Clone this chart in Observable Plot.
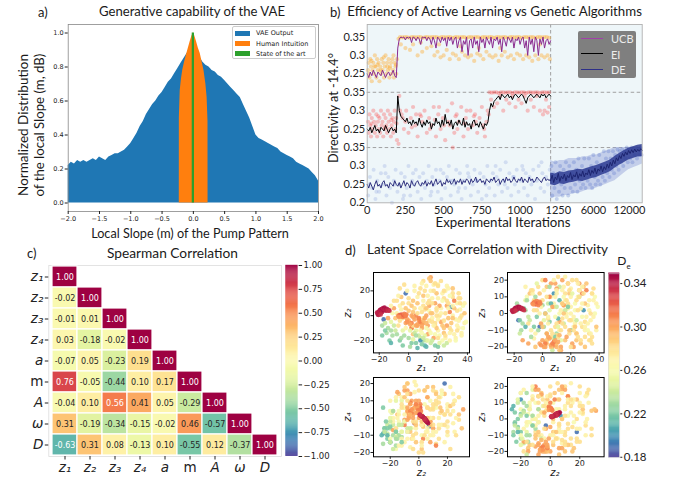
<!DOCTYPE html>
<html><head><meta charset="utf-8">
<script src="https://cdn.jsdelivr.net/npm/d3@7"></script>
<script src="https://cdn.jsdelivr.net/npm/@observablehq/plot@0.6"></script>
<style>
body{margin:0;background:#fff;}
#fig{position:relative;width:678px;height:483px;overflow:hidden;background:#fff;}
#fig svg{overflow:visible;}
.lbl{position:absolute;white-space:nowrap;line-height:1;color:#1a1a1a;}
</style></head><body><div id="fig"></div>
<script>
// ---------------- Panel a data ----------------
const slopeGrid = [-2,-1.95,-1.9,-1.85,-1.8,-1.75,-1.7,-1.65,-1.6,-1.55,-1.5,-1.45,-1.4,-1.35,-1.3,-1.25,-1.2,-1.15,-1.1,-1.05,-1,-0.95,-0.9,-0.85,-0.8,-0.75,-0.7,-0.65,-0.6,-0.55,-0.5,-0.45,-0.4,-0.35,-0.3,-0.25,-0.2,-0.15,-0.1,-0.05,0,0.05,0.1,0.15,0.2,0.25,0.3,0.35,0.4,0.45,0.5,0.55,0.6,0.65,0.7,0.75,0.8,0.85,0.9,0.95,1,1.05,1.1,1.15,1.2,1.25,1.3,1.35,1.4,1.45,1.5,1.55,1.6,1.65,1.7,1.75,1.8,1.85,1.9,1.95,2];
const vaeDensity = [.22,.24,.23,.25,.24,.25,.24,.25,.26,.25,.27,.26,.25,.27,.28,.29,.29,.30,.31,.33,.35,.38,.41,.45,.48,.52,.55,.58,.60,.63,.65,.68,.71,.73,.76,.79,.82,.85,.88,.90,.92,.89,.86,.83,.81,.80,.78,.77,.75,.74,.72,.70,.68,.66,.64,.62,.58,.54,.50,.45,.40,.38,.37,.36,.35,.34,.33,.32,.30,.29,.28,.27,.26,.24,.23,.22,.21,.20,.18,.16,.13];
const humanX = [-0.225,-0.224,-0.21,-0.19,-0.17,-0.14,-0.11,-0.08,-0.05,-0.02,0,0.02,0.05,0.08,0.11,0.14,0.17,0.2,0.22,0.234,0.235];
const humanY = [0,0.5,0.66,0.73,0.78,0.83,0.87,0.91,0.95,0.985,1.0,0.985,0.95,0.91,0.88,0.83,0.78,0.7,0.62,0.48,0];
const stateArtX = [0];
const stateArtY = [1.0];
const aXTicks = [-2,-1.5,-1,-0.5,0,0.5,1,1.5,2];
const aYTicks = [0,0.2,0.4,0.6,0.8,1.0];

// ---------------- Panel b data ----------------
const iterGrid = d3.range(0, 1201, 10);
const ucbLine = [0.25,0.24,0.255,0.245,0.26,0.25,0.24,0.255,0.25,0.245,0.26,0.25,0.24,0.25,0.255,0.245,0.25,0.26,0.245,0.24,
0.32,
0.345,0.35,0.348,0.35,0.342,0.35,0.347,0.35,0.335,0.35,0.348,0.34,0.35,0.345,0.33,0.35,0.348,0.35,0.34,0.35,
0.345,0.33,0.35,0.34,0.32,0.35,0.345,0.335,0.35,0.34,0.348,0.325,0.35,0.34,0.35,0.33,0.345,0.35,0.32,0.34,
0.35,0.31,0.34,0.33,0.35,0.3,0.34,0.345,0.32,0.35,0.33,0.34,0.31,0.35,0.335,0.345,0.32,0.35,0.34,0.33,
0.35,0.32,0.345,0.34,0.35,0.33,0.345,0.31,0.35,0.34,0.325,0.35,0.345,0.335,0.35,0.32,0.345,0.34,0.35,0.33,
0.345,0.35,0.32,0.34,0.3,0.35,0.33,0.345,0.31,0.35,0.34,0.3,0.345,0.33,0.35,0.32,0.34,0.345,0.33,0.34];
const eiLine = [0.25,0.245,0.255,0.24,0.25,0.26,0.245,0.25,0.24,0.255,0.25,0.245,0.26,0.25,0.24,0.25,0.255,0.245,0.25,0.24,
0.34,0.3,0.285,0.28,
0.275,0.27,0.28,0.265,0.27,0.26,0.275,0.265,0.27,0.26,0.28,0.265,0.255,0.27,0.26,0.275,0.265,
0.27,0.25,0.265,0.26,0.28,0.265,0.27,0.255,0.275,0.26,0.29,0.265,0.27,0.26,0.275,0.25,0.265,0.27,0.26,0.275,
0.265,0.26,0.28,0.255,0.27,0.26,0.265,0.25,0.27,0.275,0.26,0.265,0.255,0.27,0.26,0.25,0.265,0.26,0.27,
0.3,0.32,0.31,0.325,0.33,
0.335,0.34,0.33,0.345,0.34,0.335,0.34,0.345,0.335,0.34,0.33,0.34,0.345,0.34,0.335,0.34,0.345,0.34,0.33,0.32,0.335,0.34,0.345,0.34,0.335,0.34,0.345,0.34,0.335,0.345,0.34,0.345,0.335,0.34,0.345,0.34];
const deLine = [0.25,0.24,0.255,0.245,0.235,0.25,0.26,0.245,0.25,0.24,0.255,0.26,0.245,0.25,0.24,0.255,0.25,0.245,0.26,0.25,
0.245,0.255,0.24,0.25,0.26,0.245,0.255,0.25,0.24,0.26,0.25,0.245,0.255,0.26,0.25,0.245,0.255,0.25,0.26,0.245,
0.255,0.25,0.26,0.245,0.255,0.265,0.25,0.255,0.26,0.245,0.255,0.25,0.265,0.255,0.26,0.25,0.255,0.265,0.25,0.26,
0.255,0.265,0.25,0.26,0.255,0.265,0.26,0.25,0.265,0.255,0.26,0.27,0.255,0.26,0.265,0.255,0.26,0.25,0.265,0.26,
0.255,0.265,0.26,0.27,0.255,0.26,0.265,0.25,0.26,0.265,0.255,0.27,0.26,0.265,0.255,0.26,0.27,0.26,0.255,0.265,
0.26,0.27,0.255,0.265,0.26,0.255,0.27,0.26,0.265,0.255,0.26,0.27,0.265,0.26,0.255,0.265,0.27,0.26,0.265,0.26,0.265];
const ucbDots = [[5,.26],[10,.28],[15,.24],[20,.29],[25,.27],[30,.23],[35,.26],[40,.28],[45,.25],[50,.3],[55,.27],[60,.24],[65,.29],[70,.26],[75,.28],[80,.23],[85,.27],[90,.25],[95,.29],[100,.26],[105,.28],[110,.24],[115,.27],[120,.3],[125,.25],[130,.28],[135,.26],[140,.29],[145,.24],[150,.27],[155,.28],[160,.25],[165,.29],[170,.26],[175,.24],[180,.28],[185,.27],[190,.25],[195,.29],[12,.25],[48,.27],[88,.26],[132,.27],[172,.3],[28,.285],[68,.275],[108,.295],[148,.265],[188,.275],
[205,.345],[215,.35],[230,.349],[245,.35],[260,.35],[275,.348],[290,.35],[305,.35],[320,.349],[335,.35],[350,.35],[365,.348],[380,.35],[395,.35],[410,.349],[425,.35],[440,.35],[455,.35],[470,.348],[485,.35],[500,.35],[515,.349],[530,.35],[545,.35],[560,.348],[575,.35],[590,.35],[605,.349],[620,.35],[635,.35],[650,.348],[665,.35],[680,.35],[695,.349],[710,.35],[725,.35],[740,.348],[755,.35],[770,.35],[785,.349],[800,.35],[815,.35],[830,.348],[845,.35],[860,.35],[875,.349],[890,.35],[905,.35],[920,.348],[935,.35],[950,.35],[965,.349],[980,.35],[995,.35],[1010,.348],[1025,.35],[1040,.35],[1055,.349],[1070,.35],[1085,.35],[1100,.348],[1115,.35],[1130,.35],[1145,.349],[1160,.35],[1175,.35],[1190,.348],
[220,.33],[250,.32],[280,.315],[300,.33],[330,.3],[360,.31],[390,.32],[420,.325],[440,.3],[460,.31],[480,.295],[500,.3],[520,.315],[540,.29],[560,.305],[580,.3],[600,.29],[620,.31],[640,.3],[660,.295],[680,.3],[700,.285],[720,.305],[740,.3],[760,.29],[780,.31],[800,.3],[820,.295],[840,.3],[860,.285],[880,.3],[900,.31],[920,.295],[940,.3],[960,.29],[980,.305],[1000,.3],[1020,.29],[1040,.3],[1060,.295],[1080,.285],[1100,.3],[1120,.29],[1140,.3],[1160,.295],[1180,.3],[1195,.29],[350,.335],[610,.325],[870,.32],[1130,.33],[470,.33],[730,.32]];
const eiDots = [[5,.27],[10,.24],[15,.29],[20,.26],[25,.23],[30,.28],[35,.25],[40,.3],[45,.27],[50,.24],[55,.26],[60,.29],[65,.23],[70,.27],[75,.25],[80,.28],[85,.24],[90,.3],[95,.26],[100,.27],[105,.23],[110,.29],[115,.25],[120,.28],[125,.26],[130,.24],[135,.3],[140,.27],[145,.25],[150,.29],[155,.23],[160,.26],[165,.28],[170,.24],[175,.27],[180,.3],[185,.25],[190,.28],[195,.22],[28,.265],[72,.285],[118,.255],[158,.275],[192,.265],
[205,.21],[210,.34],[215,.3],[225,.29],[240,.25],[255,.3],[270,.24],[285,.28],[300,.31],[315,.26],[330,.23],[345,.29],[360,.27],[375,.3],[390,.24],[405,.28],[420,.26],[435,.31],[450,.23],[465,.29],[480,.25],[495,.28],[510,.22],[525,.3],[540,.26],[555,.32],[570,.24],[585,.29],[600,.27],[615,.31],[630,.23],[645,.28],[660,.25],[675,.3],[690,.26],[705,.29],[720,.24],[735,.28],[750,.31],[765,.25],[780,.27],[795,.29],[250,.27],[320,.29],[410,.25],[470,.31],[530,.27],[590,.25],[650,.3],[710,.27],[770,.23],[560,.2],[232,.28],[292,.255],[352,.285],[442,.275],[502,.26],[578,.285],[638,.265],[698,.285],[758,.26],[788,.3],
[800,.35],[815,.349],[830,.35],[845,.35],[860,.348],[875,.35],[890,.35],[905,.349],[920,.35],[935,.35],[950,.348],[965,.35],[980,.35],[995,.349],[1010,.35],[1025,.35],[1040,.348],[1055,.35],[1070,.35],[1085,.349],[1100,.35],[1115,.35],[1130,.348],[1145,.35],[1160,.35],[1175,.349],[1190,.35],
[810,.33],[830,.31],[850,.32],[870,.34],[890,.3],[910,.33],[930,.32],[950,.34],[970,.31],[990,.33],[1010,.32],[1030,.34],[1050,.3],[1070,.33],[1090,.31],[1110,.34],[1130,.3],[1150,.29],[1170,.33],[1190,.31],[1180,.295],[1160,.3]];
const deDots = [[6,.22],[18,.27],[30,.24],[42,.29],[54,.21],[66,.26],[78,.23],[90,.28],[102,.25],[114,.3],[126,.22],[138,.27],[150,.24],[162,.2],[174,.26],[186,.29],[198,.23],[210,.25],[222,.28],[234,.21],[246,.27],[258,.24],[270,.3],[282,.22],[294,.26],[306,.25],[318,.29],[330,.23],[342,.27],[354,.21],[366,.28],[378,.24],[390,.26],[402,.3],[414,.22],[426,.27],[438,.25],[450,.29],[462,.23],[474,.26],[486,.21],[498,.28],[510,.24],[522,.27],[534,.3],[546,.22],[558,.26],[570,.25],[582,.29],[594,.23],[606,.28],[618,.21],[630,.26],[642,.24],[654,.3],[666,.27],[678,.22],[690,.25],[702,.29],[714,.26],[726,.23],[738,.28],[750,.21],[762,.27],[774,.25],[786,.3],[798,.24],[810,.26],[822,.28],[834,.22],[846,.27],[858,.25],[870,.29],[882,.23],[894,.26],[906,.31],[918,.24],[930,.28],[942,.22],[954,.27],[966,.25],[978,.29],[990,.23],[1002,.26],[1014,.3],[1026,.24],[1038,.28],[1050,.22],[1062,.27],[1074,.25],[1086,.29],[1098,.21],[1110,.26],[1122,.3],[1134,.24],[1146,.28],[1158,.23],[1170,.27],[1182,.25],[1194,.29],
[12,.25],[60,.23],[120,.28],[180,.25],[240,.22],[300,.28],[360,.25],[420,.23],[480,.29],[540,.26],[600,.24],[660,.28],[720,.26],[780,.22],[840,.3],[900,.25],[960,.27],[1020,.29],[1080,.26],[1140,.31]];
// genetic-algorithm continuation (display positions 1200..1800 right of the dashed line)
const deRightPos = [1200,1230,1260,1290,1320,1350,1380,1410,1440,1470,1500,1530,1560,1590,1620,1650,1680,1710,1740,1770,1800];
const deRightMid = [0.265,0.262,0.268,0.266,0.27,0.272,0.275,0.274,0.278,0.282,0.285,0.29,0.295,0.3,0.31,0.318,0.325,0.332,0.336,0.34,0.342];
const deRightLo = [0.21,0.215,0.215,0.22,0.22,0.225,0.225,0.23,0.235,0.235,0.24,0.245,0.25,0.255,0.26,0.27,0.28,0.29,0.295,0.3,0.305];
const deRightHi = [0.315,0.31,0.315,0.315,0.32,0.32,0.32,0.325,0.325,0.33,0.33,0.335,0.34,0.345,0.35,0.35,0.35,0.35,0.35,0.35,0.35];
const deRightLinePos = d3.range(1200, 1801, 10);
const deRightLine = [0.26,0.275,0.255,0.27,0.262,0.28,0.258,0.272,0.265,0.278,0.26,0.274,0.268,0.282,0.263,0.276,0.27,0.284,0.266,0.279,0.272,0.286,0.27,0.281,0.276,0.29,0.274,0.288,0.28,0.294,0.278,0.292,0.286,0.3,0.284,0.298,0.29,0.305,0.294,0.31,0.3,0.316,0.306,0.322,0.314,0.328,0.32,0.334,0.326,0.338,0.33,0.342,0.334,0.344,0.336,0.346,0.338,0.345,0.34,0.347,0.342];
const deRightDots = [[1205,.3],[1210,.22],[1218,.28],[1225,.24],[1232,.31],[1240,.21],[1248,.27],[1255,.23],[1262,.3],[1270,.25],[1278,.22],[1285,.29],[1292,.24],[1300,.31],[1308,.26],[1315,.22],[1322,.3],[1330,.24],[1338,.28],[1345,.23],[1352,.31],[1360,.25],[1368,.29],[1375,.23],[1382,.32],[1390,.26],[1398,.24],[1405,.3],[1412,.25],[1420,.32],[1428,.24],[1435,.29],[1442,.26],[1450,.32],[1458,.25],[1465,.3],[1472,.24],[1480,.33],[1488,.27],[1495,.25],[1502,.31],[1510,.26],[1518,.33],[1525,.25],[1532,.3],[1540,.27],[1548,.34],[1555,.26],[1562,.32],[1570,.28],[1578,.34],[1585,.27],[1592,.32],[1600,.29],[1608,.34],[1615,.28],[1622,.33],[1630,.3],[1638,.345],[1645,.29],[1652,.34],[1660,.31],[1668,.345],[1675,.3],[1682,.34],[1690,.32],[1698,.35],[1705,.31],[1712,.345],[1720,.32],[1728,.35],[1735,.31],[1742,.345],[1750,.33],[1758,.35],[1765,.32],[1772,.345],[1780,.33],[1788,.35],[1795,.33]];
const bXTickPos = [0,250,500,750,1000,1250,1480,1716];
const bXTickText = ["0","250","500","750","1000","1250","6000","12000"];
const bYTickPos = [0.2,0.25,0.3,0.35,0.4,0.45,0.5,0.55,0.6,0.65];
const bYTickText = ["0.2","0.25","0.3","0.35","0.25","0.3","0.35","0.25","0.3","0.35"];
const bandOffset = {UCB: 0.30, EI: 0.15, DE: 0};

// ---------------- Panel c data ----------------
const corrVars = ["z₁","z₂","z₃","z₄","a","m","A","ω","D"];
const spearmanRows = [[1.00],[-0.02,1.00],[-0.01,0.01,1.00],[0.03,-0.18,-0.02,1.00],[-0.07,0.05,-0.23,0.19,1.00],[0.76,-0.05,-0.44,0.10,0.17,1.00],[-0.04,0.10,0.56,0.41,0.05,-0.29,1.00],[0.31,-0.19,-0.34,-0.15,-0.02,0.46,-0.57,1.00],[-0.63,0.31,0.08,-0.13,0.10,-0.55,0.12,-0.37,1.00]];
const corrTicks = [1,0.75,0.5,0.25,0,-0.25,-0.5,-0.75,-1];

// ---------------- Panel d data: rows [z1, z2, z3, z4, De] ----------------
const latentSpread = [[25,20,10,-5,.27],[30,15,-5,3,.28],[20,25,15,-8,.27],[15,28,5,2,.29],[35,5,12,-3,.27],[28,-10,-8,6,.28],[18,-15,3,-10,.26],[10,-20,-12,-6,.23],[5,-22,-5,-12,.22],[12,-25,8,-9,.21],[8,-18,-15,-4,.24],[3,-15,-18,2,.29],[22,-5,-20,10,.3],[26,8,18,-2,.3],[32,-3,5,15,.27],[38,-6,-10,8,.27],[14,12,-3,-15,.28],[6,15,10,12,.27],[-2,18,-8,20,.19],[29,7,2,-5,.2],[8,-20,12,-14,.2],[-17,-3,-4,-3,.19],[0,10,20,5,.28],[-5,5,-12,-8,.27],[-10,-8,-2,-6,.24],[-12,-5,8,4,.25],[-8,12,14,15,.28],[4,20,-6,8,.27],[16,2,-16,-18,.29],[20,-12,0,-16,.27],[24,14,-12,12,.28],[33,10,8,-10,.27],[36,0,15,4,.28],[27,22,3,18,.27],[11,5,22,-2,.28],[13,-8,-22,3,.3],[7,-3,-20,6,.3],[2,-10,-17,-1,.3],[9,-6,-19,9,.31],[17,-18,-14,-7,.3],[23,-20,6,-12,.26],[19,18,12,14,.29],[31,-15,-2,0,.27],[21,0,20,-20,.28],[26,-8,14,16,.3],[12,24,-10,-3,.27],[-3,25,16,10,.28],[1,-25,-8,-15,.23],[5,-12,2,10,.25],[15,-22,-6,-9,.24],[-14,-10,-6,-2,.23],[-11,2,10,-10,.26],[-6,8,-15,0,.27],[3,3,16,-5,.29],[10,8,-13,5,.28],[18,10,18,-6,.3],[28,3,12,-12,.31],[24,-14,-16,14,.29],[34,-10,-4,-14,.27],[37,8,0,10,.26],[16,-2,8,19,.27],[6,-8,-10,20,.28],[0,-18,5,-10,.23],[-4,-12,18,-8,.25],[10,16,-18,4,.29],[22,6,-8,-8,.27],[30,18,-14,2,.28],[14,-12,14,12,.27],[8,22,4,-18,.28],[20,-25,-10,6,.22],[26,-22,10,-4,.24],[2,-22,0,-6,.22],[-8,-15,-14,-12,.23],[12,0,-5,0,.3],[5,0,10,3,.31],[-1,-3,-6,-3,.3],[18,-8,6,5,.28],[32,-18,-6,-2,.27],[39,-5,4,-6,.26],[34,14,-16,9,.28],[27,-2,-18,-14,.29],[15,20,16,6,.27],[9,-10,18,16,.3],[-9,-2,12,8,.29],[-13,-20,3,-5,.22],[-15,-14,-10,-10,.23],[13,-15,-20,15,.3],[11,-24,-3,-8,.21],[7,-16,-22,-11,.24],[4,6,-3,12,.28],[19,4,-12,-10,.28],[23,12,2,6,.26],[29,-6,16,-8,.29],[36,-14,8,2,.27],[21,-16,-4,-18,.26],[16,-5,12,-12,.28],[-2,-6,-18,14,.3],[0,14,8,-6,.28],[6,10,-20,18,.29],[-6,-20,-8,-14,.22],[-18,-8,6,-8,.23],[-16,-6,-12,-6,.24],[-12,-12,2,-11,.23],[3,-19,-12,3,.25],[25,-18,18,0,.27],[33,4,-12,16,.28],[38,2,-8,-4,.29],[17,25,0,10,.27],[10,28,-6,-1,.28],[-5,15,-20,6,.29],[20,-3,10,21,.27],[14,8,20,-14,.3],[31,12,14,-16,.31],[9,3,-8,-20,.28],[1,-6,14,-17,.27],[-10,6,-18,12,.3],[24,-10,-12,18,.29],[35,-2,-18,-9,.28],[12,-20,16,-2,.24],[-4,-24,-2,-6,.22],[15,31,5,5,.3],[30,22,6,7,.29],[6,-8,18,4,.3],[2,-10,20,-4,.31],[10,-6,15,8,.3]];
const latentSpreadMore = [[22,2,-2,-4,.27],[18,-6,4,2,.28],[27,6,-6,-6,.27],[14,4,6,8,.26],[24,-4,8,-2,.28],[30,0,-10,4,.27],[16,10,-8,-4,.28],[20,14,4,0,.27],[12,-10,0,6,.26],[26,12,10,10,.28],[33,-8,2,-8,.27],[28,16,-2,14,.26],[10,12,12,-8,.27],[35,10,-14,0,.28],[8,6,6,-12,.27],[19,-10,-10,12,.29],[23,18,-6,-14,.27],[15,-14,10,-2,.26],[31,6,18,6,.29],[25,-16,-14,-6,.28],[13,16,2,16,.27],[29,-12,12,8,.28],[21,8,-18,-2,.3],[17,20,8,4,.28],[11,-16,-8,10,.25],[34,-4,-12,-12,.27],[7,18,-12,2,.28],[37,-10,10,-2,.26],[4,-14,6,-4,.24],[16,-20,2,-14,.24],[20,24,-4,8,.28],[9,26,10,0,.27],[-1,20,4,-10,.27],[3,12,-16,14,.29],[-4,10,2,6,.28],[-7,16,12,-4,.27],[-9,-12,-4,-4,.24],[-11,-16,8,-8,.23],[-7,-8,14,10,.28],[-3,-16,-10,-12,.23],[1,-12,-4,-8,.25],[5,-16,16,-16,.23],[13,-20,-16,0,.25],[18,-24,4,-6,.22],[9,-23,-14,-2,.22],[6,-26,6,-10,.21],[24,-24,-4,-8,.24],[3,-8,10,14,.28],[0,4,-8,16,.29],[-2,6,12,18,.29],[6,2,-14,-14,.28],[10,-2,14,-6,.27],[14,-4,-6,-10,.28],[19,0,14,16,.28],[23,-8,-8,20,.29],[28,-14,6,-16,.27],[32,-20,-10,4,.26],[36,-16,-2,12,.27],[38,10,6,-8,.27],[34,18,0,-4,.28],[26,24,14,4,.27],[22,28,-10,12,.28],[14,30,6,-6,.29],[18,26,18,-10,.28],[4,24,-2,14,.27],[-6,22,8,2,.28],[-10,12,-6,8,.28],[-12,8,16,0,.27],[-14,-2,-16,10,.3],[-8,2,-10,-16,.27],[-6,-4,2,-18,.28],[2,0,-20,10,.3],[8,-12,20,-12,.27],[12,6,-22,0,.29],[16,14,22,-4,.27],[20,-18,-20,4,.28],[24,20,20,-2,.28],[30,-2,-20,-4,.29],[27,10,-16,8,.28],[11,20,-14,-8,.28],[7,-4,4,0,.3],[15,2,0,-2,.29],[19,6,-4,6,.28],[25,2,2,2,.28],[9,-14,-2,4,.26],[-2,-10,0,2,.27],[-4,-2,6,-2,.28],[2,8,0,-4,.29],[30,8,-8,-10,.27],[28,-20,16,10,.27],[35,14,12,-12,.28],[33,-12,-16,6,.28],[21,-22,12,-10,.25],[17,-8,-2,-12,.27],[13,10,-10,16,.28],[10,-18,4,-18,.24],[-5,-18,10,4,.23],[-16,-12,-4,-14,.22],[-18,-16,2,-8,.22],[-12,-22,-8,-10,.21]];
const latentOrangeA = [[-7,0,6,4,.31],[-6,0.5,6.5,5,.315],[-5.5,-0.5,7,4.5,.31],[-5,1,5.5,6,.32],[-4.5,0,6,3.5,.315],[-4,-1,7.5,5.5,.31],[-3.5,0.5,6,7,.32],[-3,1.5,5,4,.31],[-2.5,-0.5,6.5,6,.315],[-2,0,7,5,.31],[-6.5,-1,5.5,3,.305],[-1.5,1,6,8,.31]];
const latentOrangeB = [[0,-4,-16,2,.3],[2,-6,-18,4,.31],[4,-3,-14,6,.3],[6,-7,-19,1,.3],[8,-5,-17,3,.31],[3,-1,-12,7,.3],[10,-4,-20,5,.295],[5,-8,-15,-1,.3],[7,-2,-18,8,.31],[1,-7,-20,0,.3],[9,-8,-16,6,.3],[12,-6,-13,2,.295],[-1,-5,-19,5,.305],[11,-2,-17,3,.3]];
const latentRed = [[-21,1,1,1.5,.34],[-21,2,1.5,1,.345],[-20.5,3,2,0.5,.34],[-20,1.5,1.2,1.2,.335],[-20,3.5,2.5,0,.345],[-19.5,4.5,3,-0.5,.34],[-19,2.5,2,0.8,.34],[-19,5,3.5,-1.5,.345],[-18.5,4,3,-0.2,.34],[-18,5.5,3.5,-2,.345],[-18,3,2.5,0.5,.34],[-17.5,6,4,-2.5,.34],[-17,4.5,3,-1,.345],[-17,5.5,3.5,-1.8,.34],[-16.5,6.5,4,-3,.345],[-16,5,3.5,-1.5,.34],[-15.5,4,3,-0.5,.34],[-15,5.5,3,-2.2,.345],[-15,4.5,3.5,-1,.34],[-14.5,5,2.5,-1.6,.34],[-14,4,3,-0.8,.335],[-13.5,4.5,2.5,-1.2,.34],[-13,4,2,-0.6,.335],[-20.5,0.5,1.5,2,.34],[-21.5,2.5,2,0.8,.34],[-19,1,1.8,1.8,.335]];
const dCbTicks = [0.18,0.22,0.26,0.30,0.34];

// ---------------- helpers ----------------
const fig = document.getElementById("fig");
function place(svg, left, top){ svg.style.position="absolute"; svg.style.left=left+"px"; svg.style.top=top+"px"; fig.append(svg); }
function label(text, x, y, o={}){
  const {size=12, font="Lato", rotate=0, anchor="middle", width=null, italic=false, color="#1a1a1a", html=false} = o;
  const el = document.createElement("div"); el.className="lbl";
  if (html) el.innerHTML=text; else el.textContent=text;
  el.style.fontFamily=font; el.style.fontSize=size+"px"; el.style.color=color;
  if (italic) el.style.fontStyle="italic";
  el.style.left="0px"; el.style.top="0px";
  fig.append(el);
  if (width){ const w = el.getBoundingClientRect().width; el.style.fontSize=(size*width/w)+"px"; }
  const tx = anchor==="middle"?"-50%":anchor==="end"?"-100%":"0%";
  el.style.left=x+"px"; el.style.top=y+"px";
  el.style.transform=`translate(${tx},-50%)`+(rotate?` rotate(${rotate}deg)`:"");
  return el;
}
const baseStyle = (fs, ff="DejaVu Sans") => ({fontFamily: ff, fontSize: fs+"px", color:"#222", background:"transparent", overflow:"visible"});

// ---------------- Panel a ----------------
const vaeData = slopeGrid.map((x,i)=>({x, y: vaeDensity[i]}));
const humanData = humanX.map((x,i)=>({x, y: humanY[i]}));
const stateData = stateArtX.map((x,i)=>({x, y: stateArtY[i]}));
place(Plot.plot({
  width: 340, height: 240, marginLeft: 67.7, marginRight: 22, marginTop: 24, marginBottom: 29,
  x: {domain: [-2, 2]}, y: {domain: [-0.05, 1.05]},
  style: baseStyle(6.5),
  marks: [
    Plot.areaY(vaeData, {x: "x", y: "y", fill: "#1f77b4"}),
    Plot.areaY(humanData, {x: "x", y: "y", fill: "#ff7f0e"}),
    Plot.rectY(stateData, {x1: d=>d.x-0.018, x2: d=>d.x+0.018, y: "y", fill: "#2ca02c"}),
    Plot.frame({stroke: "#888", strokeWidth: 0.8}),
    Plot.axisX({ticks: aXTicks, tickFormat: d3.format(".1f"), tickSize: 3, tickPadding: 1.5, label: null}),
    Plot.axisY({ticks: aYTicks, tickFormat: d3.format(".1f"), tickSize: 3, tickPadding: 1.5, label: null})
  ]
}), 0, 0);
// legend a
(function(){
  const box = document.createElement("div");
  Object.assign(box.style,{position:"absolute",left:"232px",top:"26px",width:"84px",height:"33px",border:"0.8px solid #ccc",borderRadius:"2px",background:"rgba(255,255,255,0.85)",boxSizing:"border-box"});
  fig.append(box);
  [["VAE Output","#1f77b4",33.3],["Human Intuition","#ff7f0e",43.7],["State of the art","#2ca02c",53.7]].forEach(([t,c,y])=>{
    const p=document.createElement("div");
    Object.assign(p.style,{position:"absolute",left:"235px",top:(y-2.5)+"px",width:"15px",height:"5px",background:c});
    fig.append(p);
    label(t, 256, y, {size:6.5, font:"DejaVu Sans", anchor:"start"});
  });
})();

// ---------------- Panel b ----------------
const ucbLineData = ucbLine.map((v,i)=>({t: iterGrid[i], v}));
const eiLineData = eiLine.map((v,i)=>({t: iterGrid[i], v}));
const deLineData = deLine.map((v,i)=>({t: iterGrid[i], v}));
const deRightData = deRightPos.map((u,i)=>({u, mid: deRightMid[i], lo: deRightLo[i], hi: deRightHi[i]}));
const deRightLineData = deRightLine.map((v,i)=>({u: deRightLinePos[i], v}));
const bXFmt = new Map(bXTickPos.map((p,i)=>[p,bXTickText[i]]));
const bYFmt = new Map(bYTickPos.map((p,i)=>[p,bYTickText[i]]));
place(Plot.plot({
  width: 338, height: 240, marginLeft: 26.7, marginRight: 36.3, marginTop: 24, marginBottom: 37.7,
  x: {domain: [0, 1799]}, y: {domain: [0.2, 0.684]},
  style: baseStyle(11, "Lato"),
  marks: [
    Plot.frame({fill: "#eef6f9", stroke: "none"}),
    Plot.ruleY([0.35, 0.5], {stroke: "#999", strokeDasharray: "3.5,2.5", strokeWidth: 0.9}),
    Plot.ruleX([1200], {stroke: "#999", strokeDasharray: "3.5,2.5", strokeWidth: 0.9}),
    Plot.dot(deDots, {x: d=>d[0], y: d=>d[1]+bandOffset.DE, r: 2, fill: "#3f5fc4", fillOpacity: 0.16}),
    Plot.areaY(deRightData, {x: "u", y1: d=>d.lo+bandOffset.DE, y2: d=>d.hi+bandOffset.DE, fill: "#8e9dd8", fillOpacity: 0.45}),
    Plot.dot(deRightDots, {x: d=>d[0], y: d=>d[1]+bandOffset.DE, r: 2, fill: "#3f5fc4", fillOpacity: 0.25}),
    Plot.areaY(deRightData, {x: "u", y1: d=>d.mid-0.016+bandOffset.DE, y2: d=>d.mid+0.016+bandOffset.DE, fill: "#2b3a92", fillOpacity: 0.85}),
    Plot.line(deRightLineData, {x: "u", y: d=>d.v+bandOffset.DE, stroke: "#1c2470", strokeWidth: 1}),
    Plot.line(deLineData, {x: "t", y: d=>d.v+bandOffset.DE, stroke: "#2b2d7c", strokeWidth: 1}),
    Plot.dot(eiDots, {x: d=>d[0], y: d=>d[1]+bandOffset.EI, r: 2.1, fill: "#ff3030", fillOpacity: 0.28}),
    Plot.line(eiLineData, {x: "t", y: d=>d.v+bandOffset.EI, stroke: "#000", strokeWidth: 1}),
    Plot.dot(ucbDots, {x: d=>d[0], y: d=>d[1]+bandOffset.UCB, r: 2.1, fill: "#ffa520", fillOpacity: 0.38}),
    Plot.line(ucbLineData, {x: "t", y: d=>d.v+bandOffset.UCB, stroke: "#8a2b90", strokeWidth: 1}),
    Plot.frame({stroke: "#b0b0b0", strokeWidth: 0.9}),
    Plot.axisX({ticks: bXTickPos, tickFormat: d=>bXFmt.get(d), tickSize: 0, tickPadding: 3, label: null}),
    Plot.axisY({ticks: bYTickPos, tickFormat: d=>bYFmt.get(d), tickSize: 0, tickPadding: 2, label: null})
  ]
}), 340, 0);
// legend b
(function(){
  const box = document.createElement("div");
  Object.assign(box.style,{position:"absolute",left:"578px",top:"31px",width:"58px",height:"47px",background:"#7f7f7f",borderRadius:"2px"});
  fig.append(box);
  [["UCB","#a040a8",38.3],["EI","#000",53.6],["DE","#2d2f88",69.3]].forEach(([t,c,y])=>{
    const l=document.createElement("div");
    Object.assign(l.style,{position:"absolute",left:"581px",top:(y-0.75)+"px",width:"22px",height:"1.5px",background:c});
    fig.append(l);
    label(t, 611, y, {size:11, anchor:"start", color:"#ececec"});
  });
})();

// ---------------- Panel c ----------------
const cells = [];
spearmanRows.forEach((row,i)=>row.forEach((v,j)=>cells.push({row: corrVars[i], col: corrVars[j], v})));
const sp = d3.scaleSequential(d3.interpolateSpectral).domain([1,-1]);
function isDark(v){ const c=d3.rgb(sp(v)); const lin=x=>{x/=255;return x<=0.03928?x/12.92:Math.pow((x+0.055)/1.055,2.4);}; return 0.2126*lin(c.r)+0.7152*lin(c.g)+0.0722*lin(c.b) > 0.408; }
const corrColor = {type: "linear", scheme: "spectral", reverse: true, domain: [-1, 1]};
const heat = Plot.plot({
  width: 340, height: 243, marginLeft: 48.3, marginRight: 59, marginTop: 25, marginBottom: 27,
  x: {domain: corrVars, padding: 0}, y: {domain: corrVars, padding: 0},
  color: corrColor,
  style: baseStyle(13.5),
  marks: [
    Plot.frame({stroke: "#ddd", strokeWidth: 0.8}),
    Plot.cell(cells, {x: "col", y: "row", fill: "v", stroke: "white", strokeWidth: 1.2}),
    Plot.text(cells.filter(d=>isDark(d.v)), {x: "col", y: "row", text: d=>d.v.toFixed(2), fill: "#262626", fontSize: 8}),
    Plot.text(cells.filter(d=>!isDark(d.v)), {x: "col", y: "row", text: d=>d.v.toFixed(2), fill: "#ffffff", fontSize: 8}),
    Plot.axisX({tickSize: 3.5, tickPadding: 2, label: null}),
    Plot.axisY({tickSize: 3.5, tickPadding: 2, label: null})
  ]
});
heat.querySelectorAll('g[aria-label="x-axis tick label"] text, g[aria-label="y-axis tick label"] text').forEach(t=>{
  if (t.textContent !== "m") t.style.fontStyle = "italic";
});
place(heat, 0, 240);
const cbStopsC = d3.range(-1, 1, 0.01);
place(Plot.plot({
  width: 55, height: 211, marginLeft: 0.3, marginRight: 42.4, marginTop: 10, marginBottom: 10,
  y: {domain: [-1, 1]}, color: corrColor,
  style: baseStyle(8.5),
  marks: [
    Plot.rect(cbStopsC, {y1: d=>d, y2: d=>d+0.012, fill: d=>d+0.005}),
    Plot.axisY({anchor: "right", ticks: corrTicks, tickFormat: d3.format(".2f"), tickSize: 3.5, tickPadding: 2, label: null})
  ]
}), 285, 255);

// ---------------- Panel d ----------------
const latentAll = [...latentSpread, ...latentSpreadMore, ...latentOrangeA, ...latentOrangeB, ...latentRed];
const dColor = {type: "linear", scheme: "spectral", reverse: true, domain: [0.1795, 0.349]};
function scatter(box, xd, yd, xi, yi, xt, yt){
  const mL=34, mR=6, mT=8, mB=20;
  const w = box[1]-box[0], h = box[3]-box[2];
  place(Plot.plot({
    width: w+mL+mR, height: h+mT+mB, marginLeft: mL, marginRight: mR, marginTop: mT, marginBottom: mB,
    x: {domain: xd}, y: {domain: yd}, color: dColor,
    style: baseStyle(8),
    marks: [
      Plot.dot(latentAll, {x: d=>d[xi], y: d=>d[yi], fill: d=>d[4], r: 2.3, fillOpacity: 0.9, clip: true}),
      Plot.frame({stroke: "#000", strokeWidth: 1}),
      Plot.axisX({ticks: xt, tickSize: 2.5, tickPadding: 1, label: null}),
      Plot.axisY({ticks: yt, tickSize: 2.5, tickPadding: 1, label: null})
    ]
  }), box[0]-mL, box[2]-mT);
}
scatter([373.3,469.3,272.3,352.7], [-23.9,41.4], [-30,34.8], 0, 1, [-20,0,20,40], [-20,0,20]);
scatter([506.7,603.3,272.3,352.7], [-24.7,43.5], [-23.6,24.6], 0, 2, [-20,0,20,40], [-20,-10,0,10,20]);
scatter([373.3,469.3,376.7,456], [-31.7,35.4], [-22.5,23.5], 1, 3, [-20,0,20], [-20,-10,0,10,20]);
scatter([506.7,603.3,376.7,456], [-29,36.5], [-23.3,25.5], 1, 2, [-20,0,20], [-20,-10,0,10,20]);
const cbStopsD = d3.range(0.1795, 0.349, 0.001);
place(Plot.plot({
  width: 50, height: 205, marginLeft: 0.3, marginRight: 38.7, marginTop: 10.3, marginBottom: 10.7,
  y: {domain: [0.1795, 0.349]}, color: dColor,
  style: baseStyle(11.5, "Lato"),
  marks: [
    Plot.rect(cbStopsD, {y1: d=>d, y2: d=>d+0.0012, fill: d=>d+0.0005}),
    Plot.frame({stroke: "#ccc", strokeWidth: 0.5}),
    Plot.axisY({anchor: "right", ticks: dCbTicks, tickFormat: d3.format(".2f"), tickSize: 2, tickPadding: 2, label: null})
  ]
}), 608, 263);

// ---------------- titles and axis labels ----------------
label("a)", 38, 12, {size: 13, anchor: "start"});
label("Generative capability of the VAE", 192, 12, {size: 13, width: 186});
label("b)", 330, 12, {size: 13, anchor: "start"});
label("Efficiency of Active Learning vs Genetic Algorithms", 494.6, 12, {size: 13, width: 295});
label("c)", 27, 253, {size: 13, anchor: "start"});
label("Spearman Correlation", 172.5, 253, {size: 13, width: 131});
label("d)", 345, 250, {size: 13, anchor: "start"});
label("Latent Space Correlation with Directivity", 487.5, 250, {size: 13, width: 241});
label("Local Slope (m) of the Pump Pattern", 190, 233, {size: 12, width: 198});
label("Normalized Distribution", 24, 125, {size: 12, width: 142, rotate: -90});
label("of the local Slope (m, dB)", 40, 125, {size: 12, width: 143, rotate: -90});
label("Directivity at -14.4°", 334, 108, {size: 12, width: 110, rotate: -90});
label("Experimental Iterations", 503, 223, {size: 12, width: 135});
const zl = {size: 10, font: "DejaVu Sans", italic: true};
label("z₁", 421.5, 368, zl); label("z₂", 348.3, 313, {...zl, rotate: -90});
label("z₁", 555, 368, zl); label("z₃", 482, 313, {...zl, rotate: -90});
label("z₂", 421.5, 473, zl); label("z₄", 348.3, 417, {...zl, rotate: -90});
label("z₂", 555, 473, zl); label("z₃", 482, 417, {...zl, rotate: -90});
label("D<sub style='font-size:0.65em'>e</sub>", 624, 263, {size: 12, html: true});
</script></body></html>
